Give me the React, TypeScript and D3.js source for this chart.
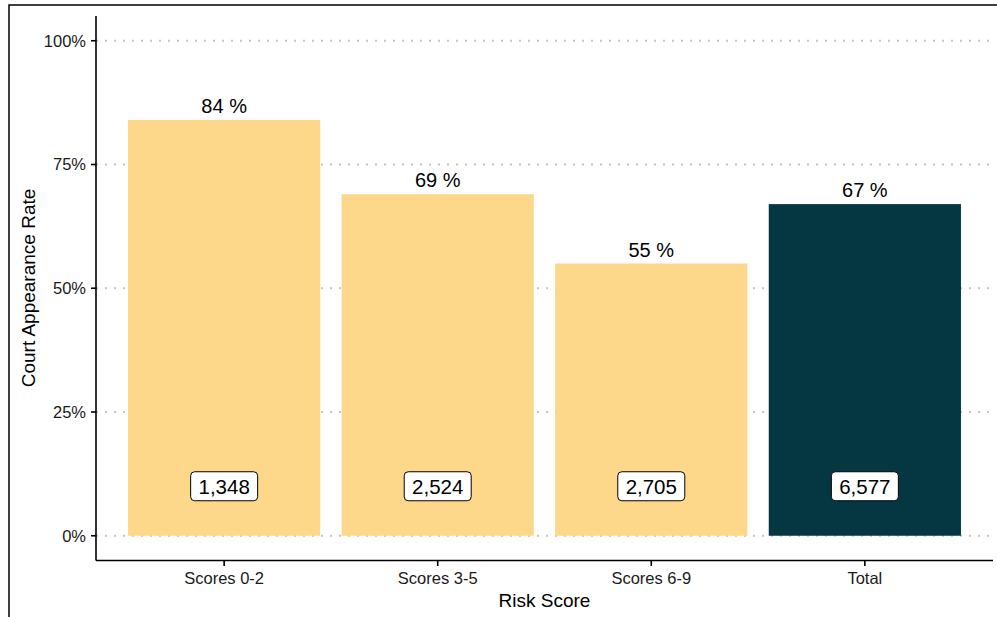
import React from 'react';
import * as d3 from 'd3';

const categories = ['Scores 0-2', 'Scores 3-5', 'Scores 6-9', 'Total'];
const rates = [0.84, 0.69, 0.55, 0.67];
const counts = [1348, 2524, 2705, 6577];
const yTicks = [0, 0.25, 0.5, 0.75, 1];

const W = 997;
const H = 617;
const FONT = '"Liberation Sans", Arial, sans-serif';

const App: React.FC = () => {
  const x = d3.scaleBand<string>()
    .domain(categories)
    .range([96, 993])
    .paddingInner(0.1)
    .paddingOuter(0.15);

  const y = d3.scaleLinear().domain([-0.05, 1.05]).range([560.5, 16]);

  const fmtCount = d3.format(',');
  const fmtPct = (v: number) => `${Math.round(v * 100)}%`;

  return (
    <div style={{ position: 'fixed', left: 0, top: 0 }}>
      <svg width={W} height={H} style={{ display: 'block', background: '#fff' }} fontFamily={FONT}>
        {/* outer frame */}
        <rect x={9} y={5} width={W + 20} height={H + 20} fill="none" stroke="#000" strokeWidth={1.5} />

        {/* grid */}
        {yTicks.map(t => (
          <line key={`g${t}`} x1={96} x2={993} y1={y(t)} y2={y(t)}
            stroke="#c4c4c4" strokeWidth={2} strokeDasharray="2 7" />
        ))}

        {/* bars */}
        {categories.map((c, i) => (
          <rect key={c} x={x(c)} y={y(rates[i])} width={x.bandwidth()}
            height={y(0) - y(rates[i])}
            fill={c === 'Total' ? '#053743' : '#FDD78A'} />
        ))}

        {/* rate labels */}
        {categories.map((c, i) => (
          <text key={`r${c}`} x={(x(c) ?? 0) + x.bandwidth() / 2} y={y(rates[i]) - 7}
            textAnchor="middle" fontSize={20} fill="#000">
            {`${Math.round(rates[i] * 100)} %`}
          </text>
        ))}

        {/* count labels */}
        {categories.map((c, i) => {
          const cx = (x(c) ?? 0) + x.bandwidth() / 2;
          const cy = y(0.1);
          const label = fmtCount(counts[i]);
          const bw = 67;
          return (
            <g key={`c${c}`}>
              <rect x={cx - bw / 2} y={cy - 14.5} width={bw} height={29} rx={4}
                fill="#fff" stroke="#000" strokeWidth={1} />
              <text x={cx} y={cy} dy="0.36em" textAnchor="middle" fontSize={20.5} fill="#000">
                {label}
              </text>
            </g>
          );
        })}

        {/* y axis */}
        <line x1={96} x2={96} y1={16} y2={560.5} stroke="#000" strokeWidth={1.6} />
        {yTicks.map(t => (
          <g key={`t${t}`}>
            <line x1={91} x2={96} y1={y(t)} y2={y(t)} stroke="#000" strokeWidth={1.6} />
            <text x={86} y={y(t)} dy="0.36em" textAnchor="end" fontSize={16.5} fill="#1a1a1a">
              {fmtPct(t)}
            </text>
          </g>
        ))}

        {/* x axis */}
        <line x1={96} x2={993} y1={560.5} y2={560.5} stroke="#000" strokeWidth={1.6} />
        {categories.map(c => {
          const cx = (x(c) ?? 0) + x.bandwidth() / 2;
          return (
            <g key={`x${c}`}>
              <line x1={cx} x2={cx} y1={560.5} y2={566} stroke="#000" strokeWidth={1.6} />
              <text x={cx} y={578} dy="0.36em" textAnchor="middle" fontSize={16.5} fill="#1a1a1a">
                {c}
              </text>
            </g>
          );
        })}

        {/* axis titles */}
        <text x={(96 + 993) / 2} y={600} dy="0.36em" textAnchor="middle" fontSize={19} fill="#000">
          Risk Score
        </text>
        <text transform={`translate(28,${(16 + 560) / 2}) rotate(-90)`} dy="0.36em"
          textAnchor="middle" fontSize={19} fill="#000">
          Court Appearance Rate
        </text>
      </svg>
    </div>
  );
};

export default App;
